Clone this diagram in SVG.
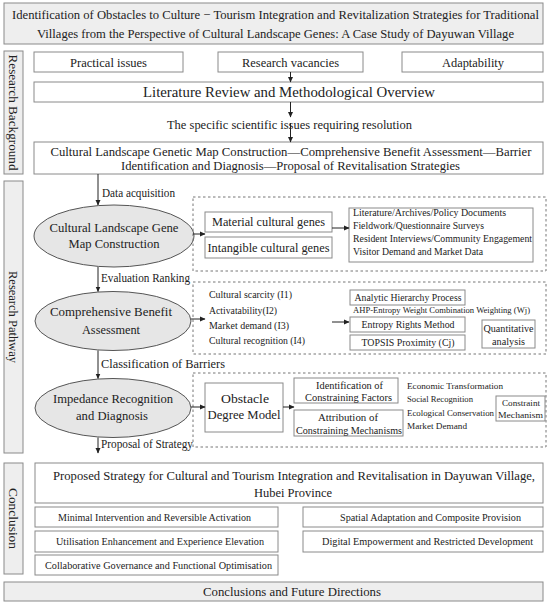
<svg xmlns="http://www.w3.org/2000/svg" width="550" height="604" viewBox="0 0 550 604">
<defs>
<marker id="ah" markerWidth="6" markerHeight="6" refX="5" refY="3" orient="auto" markerUnits="userSpaceOnUse">
<path d="M0,0.5 L5.5,3 L0,5.5 z" fill="#222"/>
</marker>
<style>
text{font-family:"Liberation Serif","Times New Roman",serif;fill:#222}
.box{fill:#fff;stroke:#8a8a8a;stroke-width:1}
.gbox{fill:#eeeeee;stroke:#8a8a8a;stroke-width:1}
.dash{fill:none;stroke:#777;stroke-width:1;stroke-dasharray:2.5,2.5}
.ell{fill:#e6e6e6;stroke:#555;stroke-width:1}
.arr{stroke:#222;stroke-width:1;fill:none;marker-end:url(#ah)}
.m{text-anchor:middle}
.t{font-size:12.8px}
.f15{font-size:14.5px}
.f14{font-size:13.5px}
.f13{font-size:13px}
.f12{font-size:12px}
.f11{font-size:10.5px}
.f10{font-size:10px}
.f9{font-size:9.2px}
.f8{font-size:8.5px}
</style>
</defs>
<rect width="550" height="604" fill="#fff"/>

<g id="title">
<rect class="gbox" x="4" y="3" width="539" height="41"/>
<text class="m t" x="275.5" y="19" textLength="527" lengthAdjust="spacingAndGlyphs">Identification of Obstacles to Culture − Tourism Integration and Revitalization Strategies for Traditional</text>
<text class="m t" x="275.5" y="38" textLength="477" lengthAdjust="spacingAndGlyphs">Villages from the Perspective of Cultural Landscape Genes: A Case Study of Dayuwan Village</text>
</g>

<g id="label-background">
<rect class="gbox" x="4" y="51" width="19" height="123"/>
<text class="m f13" transform="translate(13.5,112.5) rotate(90)" y="4.5" textLength="116" lengthAdjust="spacingAndGlyphs">Research Background</text>
</g>
<g id="label-pathway">
<rect class="gbox" x="4" y="181" width="19" height="272"/>
<text class="m f13" transform="translate(13.5,317) rotate(90)" y="4.5" textLength="92" lengthAdjust="spacingAndGlyphs">Research Pathway</text>
</g>
<g id="label-conclusion">
<rect class="gbox" x="4" y="463" width="19" height="111"/>
<text class="m f13" transform="translate(13.5,518.5) rotate(90)" y="4.5" textLength="61" lengthAdjust="spacingAndGlyphs">Conclusion</text>
</g>

<g id="practical">
<rect class="box" x="34" y="52" width="149" height="20"/>
<text class="m f13" x="108.5" y="66.5" textLength="77" lengthAdjust="spacingAndGlyphs">Practical issues</text>
</g>
<g id="vacancies">
<rect class="box" x="218" y="52" width="145" height="20"/>
<text class="m f13" x="290.5" y="66.5" textLength="97" lengthAdjust="spacingAndGlyphs">Research vacancies</text>
</g>
<g id="adaptability">
<rect class="box" x="402" y="52" width="141" height="20"/>
<text class="m f13" x="473" y="66.5" textLength="62" lengthAdjust="spacingAndGlyphs">Adaptability</text>
</g>
<g id="literature">
<rect class="box" x="34" y="82" width="509" height="20"/>
<text class="m f15" x="289" y="97" textLength="292" lengthAdjust="spacingAndGlyphs">Literature Review and Methodological Overview</text>
</g>
<g id="specific">
<text class="m f13" x="289.5" y="129" textLength="245" lengthAdjust="spacingAndGlyphs">The specific scientific issues requiring resolution</text>
</g>
<g id="framework">
<rect class="box" x="34" y="142" width="509" height="32"/>
<text class="m f13" x="291" y="155.5" textLength="481" lengthAdjust="spacingAndGlyphs">Cultural Landscape Genetic Map Construction—Comprehensive Benefit Assessment—Barrier</text>
<text class="m f13" x="290.5" y="170" textLength="339" lengthAdjust="spacingAndGlyphs">Identification and Diagnosis—Proposal of Revitalisation Strategies</text>
</g>

<g id="gene-map">
<ellipse class="ell" cx="114" cy="236" rx="80" ry="31"/>
<text class="m f14" x="114" y="232" textLength="129" lengthAdjust="spacingAndGlyphs">Cultural Landscape Gene</text>
<text class="m f14" x="114" y="248" textLength="91" lengthAdjust="spacingAndGlyphs">Map Construction</text>
</g>
<g id="gene-detail">
<rect class="dash" x="193" y="197" width="353" height="74"/>
<rect class="box" x="205" y="212" width="127" height="20"/>
<text class="m f13" x="268.5" y="226" textLength="113" lengthAdjust="spacingAndGlyphs">Material cultural genes</text>
<rect class="box" x="205" y="237" width="127" height="21"/>
<text class="m f13" x="268.5" y="252" textLength="122" lengthAdjust="spacingAndGlyphs">Intangible cultural genes</text>
<rect class="box" x="349" y="208" width="184" height="54"/>
<text class="f10" x="353" y="216" textLength="153" lengthAdjust="spacingAndGlyphs">Literature/Archives/Policy Documents</text>
<text class="f10" x="353" y="229" textLength="131" lengthAdjust="spacingAndGlyphs">Fieldwork/Questionnaire Surveys</text>
<text class="f10" x="353" y="242" textLength="179" lengthAdjust="spacingAndGlyphs">Resident Interviews/Community Engagement</text>
<text class="f10" x="353" y="255" textLength="130" lengthAdjust="spacingAndGlyphs">Visitor Demand and Market Data</text>
</g>

<g id="benefit">
<ellipse class="ell" cx="113" cy="321" rx="78" ry="29.5"/>
<text class="m f14" x="111" y="316" textLength="122" lengthAdjust="spacingAndGlyphs">Comprehensive Benefit</text>
<text class="m f14" x="111" y="334" textLength="58" lengthAdjust="spacingAndGlyphs">Assessment</text>
</g>
<g id="benefit-detail">
<rect class="dash" x="193" y="282" width="353" height="72"/>
<text class="f11" x="209" y="298" textLength="83" lengthAdjust="spacingAndGlyphs">Cultural scarcity (I1)</text>
<text class="f11" x="209" y="314" textLength="68" lengthAdjust="spacingAndGlyphs">Activatability(I2)</text>
<text class="f11" x="209" y="329" textLength="80" lengthAdjust="spacingAndGlyphs">Market demand (I3)</text>
<text class="f11" x="209" y="344" textLength="96" lengthAdjust="spacingAndGlyphs">Cultural recognition (I4)</text>
<rect class="box" x="350" y="290" width="115" height="15"/>
<text class="m f11" x="408" y="301" textLength="107" lengthAdjust="spacingAndGlyphs">Analytic Hierarchy Process</text>
<text class="f8" x="353" y="313" textLength="177" lengthAdjust="spacingAndGlyphs">AHP-Entropy Weight Combination Weighting (Wj)</text>
<rect class="box" x="350" y="317" width="115" height="15"/>
<text class="m f11" x="408" y="328" textLength="93" lengthAdjust="spacingAndGlyphs">Entropy Rights Method</text>
<rect class="box" x="350" y="335" width="115" height="15"/>
<text class="m f11" x="408" y="346" textLength="93" lengthAdjust="spacingAndGlyphs">TOPSIS Proximity (Cj)</text>
<rect class="box" x="482" y="320" width="53" height="28"/>
<text class="m f11" x="508.5" y="332" textLength="50" lengthAdjust="spacingAndGlyphs">Quantitative</text>
<text class="m f11" x="508.5" y="345" textLength="33" lengthAdjust="spacingAndGlyphs">analysis</text>
</g>

<g id="impedance">
<ellipse class="ell" cx="113" cy="408" rx="78" ry="29.5"/>
<text class="m f14" x="113" y="403" textLength="120" lengthAdjust="spacingAndGlyphs">Impedance Recognition</text>
<text class="m f14" x="112" y="420" textLength="72" lengthAdjust="spacingAndGlyphs">and Diagnosis</text>
</g>
<g id="impedance-detail">
<rect class="dash" x="193" y="373" width="353" height="74"/>
<rect class="box" x="205" y="383" width="78" height="49"/>
<text class="m f14" x="245" y="403" textLength="48" lengthAdjust="spacingAndGlyphs">Obstacle</text>
<text class="m f14" x="244" y="419" textLength="73" lengthAdjust="spacingAndGlyphs">Degree Model</text>
<rect class="box" x="294" y="378" width="104" height="25"/>
<text class="m f10" x="349.5" y="388.5" textLength="67" lengthAdjust="spacingAndGlyphs">Identification of</text>
<text class="m f10" x="348.5" y="400.5" textLength="87" lengthAdjust="spacingAndGlyphs">Constraining Factors</text>
<rect class="box" x="294" y="410" width="109" height="26"/>
<text class="m f10" x="348" y="421" textLength="60" lengthAdjust="spacingAndGlyphs">Attribution of</text>
<text class="m f10" x="349" y="433.5" textLength="106" lengthAdjust="spacingAndGlyphs">Constraining Mechanisms</text>
<text class="f9" x="407" y="389" textLength="96" lengthAdjust="spacingAndGlyphs">Economic Transformation</text>
<text class="f9" x="407" y="402" textLength="66" lengthAdjust="spacingAndGlyphs">Social Recognition</text>
<text class="f9" x="407" y="416" textLength="87" lengthAdjust="spacingAndGlyphs">Ecological Conservation</text>
<text class="f9" x="407" y="429" textLength="60" lengthAdjust="spacingAndGlyphs">Market Demand</text>
<rect class="box" x="496" y="396" width="49" height="25"/>
<text class="m f9" x="521" y="406" textLength="38" lengthAdjust="spacingAndGlyphs">Constraint</text>
<text class="m f9" x="520.5" y="418" textLength="45" lengthAdjust="spacingAndGlyphs">Mechanism</text>
</g>

<g id="strategy">
<rect class="box" x="35" y="463" width="508" height="40"/>
<text class="m t" x="294" y="480" textLength="482" lengthAdjust="spacingAndGlyphs">Proposed Strategy for Cultural and Tourism Integration and Revitalisation in Dayuwan Village,</text>
<text class="m t" x="293" y="497" textLength="78" lengthAdjust="spacingAndGlyphs">Hubei Province</text>
</g>
<g id="s1"><rect class="box" x="35" y="507" width="243" height="20"/><text class="m f11" x="154.5" y="520.5" textLength="193" lengthAdjust="spacingAndGlyphs">Minimal Intervention and Reversible Activation</text></g>
<g id="s2"><rect class="box" x="35" y="531" width="243" height="21"/><text class="m f11" x="160" y="545" textLength="208" lengthAdjust="spacingAndGlyphs">Utilisation Enhancement and Experience Elevation</text></g>
<g id="s3"><rect class="box" x="35" y="555" width="243" height="20"/><text class="m f11" x="158.5" y="568.5" textLength="227" lengthAdjust="spacingAndGlyphs">Collaborative Governance and Functional Optimisation</text></g>
<g id="s4"><rect class="box" x="303" y="507" width="240" height="20"/><text class="m f11" x="430.5" y="520.5" textLength="181" lengthAdjust="spacingAndGlyphs">Spatial Adaptation and Composite Provision</text></g>
<g id="s5"><rect class="box" x="303" y="531" width="240" height="21"/><text class="m f11" x="427.5" y="545" textLength="211" lengthAdjust="spacingAndGlyphs">Digital Empowerment and Restricted Development</text></g>
<g id="final">
<rect class="gbox" x="4" y="582" width="539" height="19"/>
<text class="m f13" x="292" y="596" textLength="178" lengthAdjust="spacingAndGlyphs">Conclusions and Future Directions</text>
</g>

<g id="connectors">
<line class="arr" x1="290.5" y1="72" x2="290.5" y2="82"/>
<line class="arr" x1="290.5" y1="102" x2="290.5" y2="117"/>
<line class="arr" x1="290.5" y1="123" x2="290.5" y2="142"/>
<line class="arr" x1="98" y1="174" x2="98" y2="205"/>
<line class="arr" x1="98" y1="267" x2="98" y2="291.5"/>
<line class="arr" x1="98" y1="350.5" x2="98" y2="378.5"/>
<line class="arr" x1="98" y1="437.5" x2="98" y2="453"/>
<line class="arr" x1="193" y1="234" x2="205" y2="234"/>
<line class="arr" x1="332" y1="228" x2="349" y2="228"/>
<line class="arr" x1="191" y1="319" x2="205" y2="319"/>
<line class="arr" x1="332" y1="322" x2="349" y2="322"/>
<line class="arr" x1="191" y1="407" x2="205" y2="407"/>
<line class="arr" x1="283" y1="407" x2="294" y2="407"/>
<text class="f12" x="102" y="197" textLength="73" lengthAdjust="spacingAndGlyphs">Data acquisition</text>
<text class="f12" x="101" y="282" textLength="89" lengthAdjust="spacingAndGlyphs">Evaluation Ranking</text>
<text class="f12" x="101" y="368" textLength="124" lengthAdjust="spacingAndGlyphs">Classification of Barriers</text>
<text class="f12" x="101" y="448" textLength="92" lengthAdjust="spacingAndGlyphs">Proposal of Strategy</text>
</g>
</svg>
